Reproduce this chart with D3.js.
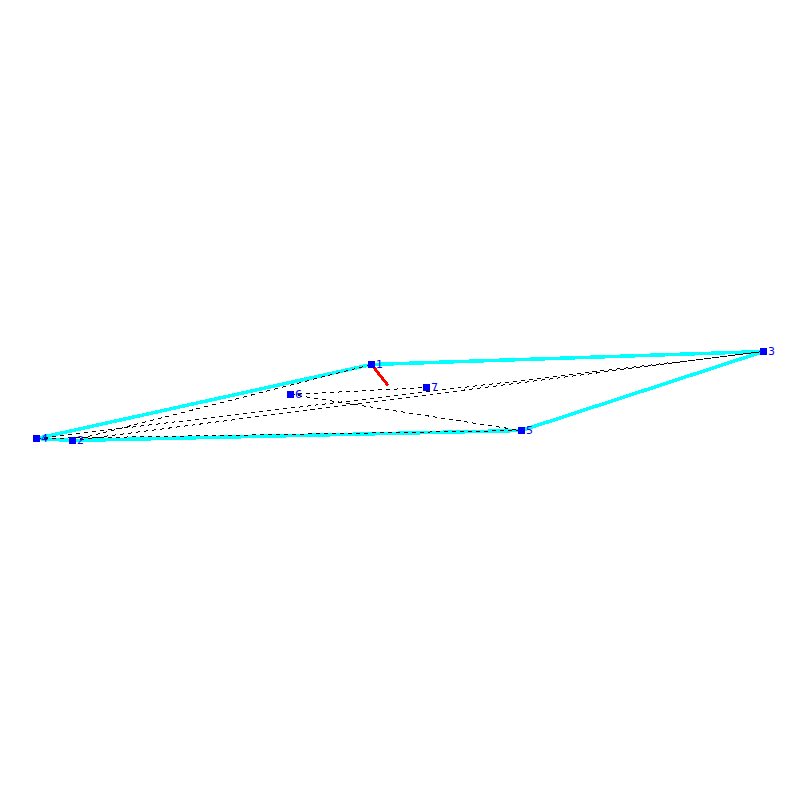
<!DOCTYPE html>
<html>
<head>
<meta charset="utf-8">
<script src="https://cdn.jsdelivr.net/npm/d3@7"></script>
<style>
  html, body { margin: 0; padding: 0; background: #fff; }
  svg { display: block; }
</style>
</head>
<body>
<div id="chart"></div>
<script>
// node data
const nodeIds = [1, 2, 3, 4, 5, 6, 7];
const nodeX = [371.5, 72.5, 763.5, 36.5, 521.5, 290.5, 426.5];
const nodeY = [364.5, 440.5, 351.5, 438.5, 430.5, 394.5, 387.5];

// edges as pairs of node ids
const hullEdges = [[1, 3], [3, 5], [5, 2], [2, 4], [4, 1]];
const dashedEdges = [[2, 1], [4, 3], [2, 3], [6, 7], [6, 5], [4, 5]];
const redFrom = [371.5, 364.5];
const redTo = [388, 385.5];

const width = 800, height = 800;
const x = d3.scaleLinear().domain([0, 800]).range([0, width]);
const y = d3.scaleLinear().domain([0, 800]).range([0, height]);

const pos = id => {
  const i = nodeIds.indexOf(id);
  return [x(nodeX[i]), y(nodeY[i])];
};

const svg = d3.select("#chart").append("svg")
  .attr("width", width)
  .attr("height", height);

// cyan outline
svg.append("g").selectAll("line")
  .data(hullEdges)
  .enter()
  .append("line")
  .attr("x1", d => pos(d[0])[0])
  .attr("y1", d => pos(d[0])[1])
  .attr("x2", d => pos(d[1])[0])
  .attr("y2", d => pos(d[1])[1])
  .attr("stroke", "#00ffff")
  .attr("stroke-width", 3.5)
  .attr("shape-rendering", "crispEdges");

// dashed black edges
svg.append("g").selectAll("line")
  .data(dashedEdges)
  .enter()
  .append("line")
  .attr("x1", d => pos(d[0])[0])
  .attr("y1", d => pos(d[0])[1])
  .attr("x2", d => pos(d[1])[0])
  .attr("y2", d => pos(d[1])[1])
  .attr("stroke", "#000")
  .attr("stroke-width", 1)
  .attr("stroke-dasharray", "4,4")
  .attr("shape-rendering", "crispEdges");

// red segment
svg.append("line")
  .attr("x1", x(redFrom[0]))
  .attr("y1", y(redFrom[1]))
  .attr("x2", x(redTo[0]))
  .attr("y2", y(redTo[1]))
  .attr("stroke", "#ff0000")
  .attr("stroke-width", 3)
  .attr("shape-rendering", "crispEdges");

// nodes
svg.append("g").selectAll("rect")
  .data(nodeIds)
  .enter()
  .append("rect")
  .attr("x", d => pos(d)[0] - 3.5)
  .attr("y", d => pos(d)[1] - 3.5)
  .attr("width", 7)
  .attr("height", 7)
  .attr("fill", "#0000ff")
  .attr("shape-rendering", "crispEdges");

svg.append("g").selectAll("text")
  .data(nodeIds)
  .enter()
  .append("text")
  .attr("x", d => pos(d)[0] + 4.5)
  .attr("y", d => pos(d)[1] + 3.5)
  .attr("font-family", "'DejaVu Sans', sans-serif")
  .attr("font-size", 11)
  .attr("fill", "#0000ff")
  .text(d => d);
</script>
</body>
</html>
